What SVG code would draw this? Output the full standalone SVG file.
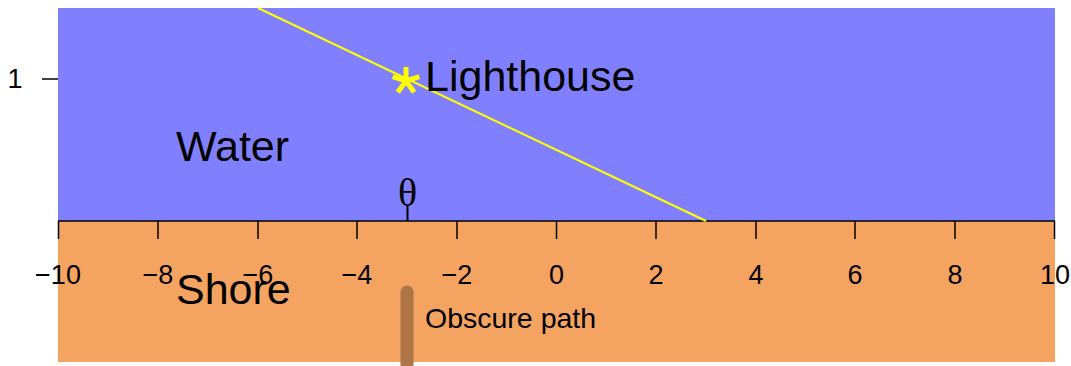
<svg xmlns="http://www.w3.org/2000/svg" width="1071" height="366" viewBox="0 0 1071 366">
<style>
.t{font-family:"Liberation Sans",Arial,sans-serif;fill:#000}
.tick{stroke:#000;stroke-width:1.5}
.lbl{font-size:27px;text-anchor:middle}
.big{font-size:43px}
</style>
<rect width="1071" height="366" fill="#fff"/>
<g id="water"><rect x="58" y="8" width="997" height="213" fill="#8080FF"/>
<text class="t big" x="176" y="161">Water</text></g>
<g id="shore"><rect x="58" y="221" width="997" height="141" fill="#F4A460"/>
<text class="t big" x="176" y="304">Shore</text></g>
<g id="axes">
<line class="tick" x1="58" y1="221" x2="1055" y2="221"/>
<g class="tick">
<line x1="58.5" y1="221" x2="58.5" y2="239"/><line x1="158" y1="221" x2="158" y2="239"/><line x1="258" y1="221" x2="258" y2="239"/><line x1="357" y1="221" x2="357" y2="239"/><line x1="457" y1="221" x2="457" y2="239"/><line x1="556.5" y1="221" x2="556.5" y2="239"/><line x1="656" y1="221" x2="656" y2="239"/><line x1="756" y1="221" x2="756" y2="239"/><line x1="855" y1="221" x2="855" y2="239"/><line x1="955" y1="221" x2="955" y2="239"/><line x1="1054.5" y1="221" x2="1054.5" y2="239"/>
<line x1="42" y1="79" x2="58" y2="79"/>
</g>
<g class="t lbl">
<text x="58" y="284">−10</text><text x="158" y="284">−8</text><text x="258" y="284">−6</text><text x="357" y="284">−4</text><text x="457" y="284">−2</text><text x="556.5" y="284">0</text><text x="656" y="284">2</text><text x="756" y="284">4</text><text x="855" y="284">6</text><text x="955" y="284">8</text><text x="1055" y="284">10</text>
<text x="15" y="88">1</text>
</g>
</g>
<g id="connectors">
<line x1="258" y1="8" x2="706" y2="221" stroke="#FFFF00" stroke-width="2"/>
<line x1="407.5" y1="206" x2="407.5" y2="221" stroke="#000" stroke-width="2"/>
</g>
<g id="lighthouse">
<g stroke="#FFFF00" stroke-width="5" transform="translate(406,81)">
<line x1="0" y1="0" x2="0" y2="-14"/>
<line x1="0" y1="0" x2="13.3" y2="-4.3"/>
<line x1="0" y1="0" x2="8.2" y2="11.3"/>
<line x1="0" y1="0" x2="-8.2" y2="11.3"/>
<line x1="0" y1="0" x2="-13.3" y2="-4.3"/>
</g>
<text class="t big" x="425" y="91">Lighthouse</text>
</g>
<g id="theta"><text x="407.5" y="206" font-family="Liberation Serif,serif" font-size="40" text-anchor="middle">θ</text></g>
<g id="obscure">
<line x1="407" y1="292" x2="407" y2="372" stroke="#AD7446" stroke-width="13" stroke-linecap="round"/>
<text class="t" x="425" y="328" font-size="28.5">Obscure path</text>
</g>
</svg>
